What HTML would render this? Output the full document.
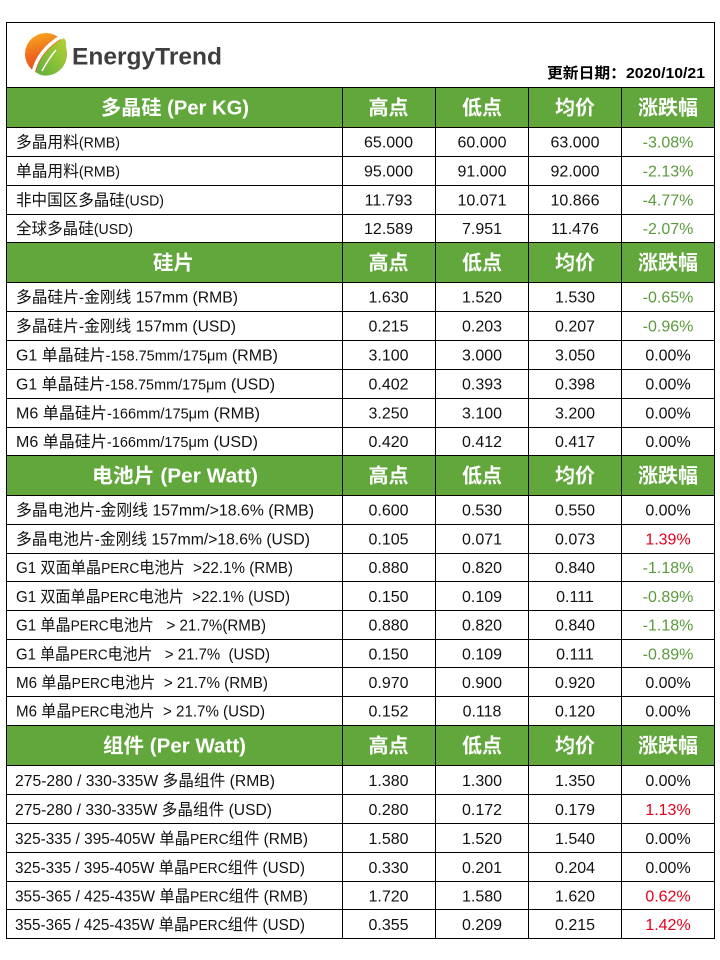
<!DOCTYPE html>
<html>
<head>
<meta charset="utf-8">
<style>
html,body{margin:0;padding:0;background:#fff;}
svg{display:block;}
text{white-space:pre;}
.lb{font-family:"Liberation Sans","Noto Sans CJK SC",sans-serif;font-size:16px;fill:#111;}
.nm{font-family:"Liberation Sans","Noto Sans CJK SC",sans-serif;font-size:16px;fill:#111;text-anchor:middle;}
.g{fill:#5a9a3c;}
.r{fill:#e3001b;}
.hd{font-family:"Liberation Sans","Noto Sans CJK SC",sans-serif;font-size:20px;font-weight:bold;fill:#fff;}
.hc{font-family:"Liberation Sans","Noto Sans CJK SC",sans-serif;font-size:20px;font-weight:bold;fill:#fff;text-anchor:middle;}
.sm{font-size:14.5px;}
</style>
</head>
<body>
<svg width="720" height="960" viewBox="0 0 720 960" xmlns="http://www.w3.org/2000/svg">
<defs>
<linearGradient id="lgo" x1="0" y1="0" x2="0.3" y2="1">
<stop offset="0" stop-color="#f8b01c"/>
<stop offset="0.55" stop-color="#ee6a1f"/>
<stop offset="1" stop-color="#e5461c"/>
</linearGradient>
<linearGradient id="lgg" x1="0" y1="1" x2="1" y2="0">
<stop offset="0" stop-color="#5fae3d"/>
<stop offset="1" stop-color="#b5d334"/>
</linearGradient>
</defs>

<!-- green header fills -->
<rect x="7" y="87" width="707" height="40" fill="#61a73b"/>
<rect x="7" y="242" width="707" height="40" fill="#61a73b"/>
<rect x="7" y="455" width="707" height="40" fill="#61a73b"/>
<rect x="7" y="725" width="707" height="40" fill="#61a73b"/>

<!-- logo -->
<circle cx="46" cy="54" r="21" fill="url(#lgo)"/>
<path d="M 66 46 Q 70 66 54 74 Q 42 78 36 72 Q 40 52 64 38 Q 67 42 66 46 Z" fill="url(#lgg)"/>
<path d="M 33 73 Q 38 50 62 36" stroke="#fff" stroke-width="3.5" fill="none"/>
<path d="M 42 71 Q 49 58 56 50" stroke="#fff" stroke-width="1.5" fill="none"/>
<text x="72" y="64.5" textLength="150" lengthAdjust="spacingAndGlyphs" style="font-family:'Liberation Sans',sans-serif;font-size:24px;font-weight:bold;fill:#3e3e3e;">EnergyTrend</text>
<text x="705" y="78" text-anchor="end" textLength="158" lengthAdjust="spacingAndGlyphs" style="font-family:'Liberation Sans','Noto Sans CJK SC',sans-serif;font-size:15px;font-weight:bold;fill:#000;">更新日期：2020/10/21</text>

<!-- grid lines -->
<g stroke="#000" stroke-width="1" shape-rendering="crispEdges">
<rect x="6.5" y="22.5" width="708" height="916" fill="none"/>
<line x1="6.5" y1="87.5" x2="714.5" y2="87.5"/>
<line x1="342.5" y1="87.5" x2="342.5" y2="938.5"/>
<line x1="435.5" y1="87.5" x2="435.5" y2="938.5"/>
<line x1="528.5" y1="87.5" x2="528.5" y2="938.5"/>
<line x1="621.5" y1="87.5" x2="621.5" y2="938.5"/>
<line x1="6.5" y1="127.5" x2="714.5" y2="127.5"/>
<line x1="6.5" y1="156.5" x2="714.5" y2="156.5"/>
<line x1="6.5" y1="185.5" x2="714.5" y2="185.5"/>
<line x1="6.5" y1="214.5" x2="714.5" y2="214.5"/>
<line x1="6.5" y1="242.5" x2="714.5" y2="242.5"/>
<line x1="6.5" y1="282.5" x2="714.5" y2="282.5"/>
<line x1="6.5" y1="311.5" x2="714.5" y2="311.5"/>
<line x1="6.5" y1="340.5" x2="714.5" y2="340.5"/>
<line x1="6.5" y1="369.5" x2="714.5" y2="369.5"/>
<line x1="6.5" y1="398.5" x2="714.5" y2="398.5"/>
<line x1="6.5" y1="427.5" x2="714.5" y2="427.5"/>
<line x1="6.5" y1="455.5" x2="714.5" y2="455.5"/>
<line x1="6.5" y1="495.5" x2="714.5" y2="495.5"/>
<line x1="6.5" y1="524.5" x2="714.5" y2="524.5"/>
<line x1="6.5" y1="553.5" x2="714.5" y2="553.5"/>
<line x1="6.5" y1="581.5" x2="714.5" y2="581.5"/>
<line x1="6.5" y1="610.5" x2="714.5" y2="610.5"/>
<line x1="6.5" y1="639.5" x2="714.5" y2="639.5"/>
<line x1="6.5" y1="667.5" x2="714.5" y2="667.5"/>
<line x1="6.5" y1="696.5" x2="714.5" y2="696.5"/>
<line x1="6.5" y1="725.5" x2="714.5" y2="725.5"/>
<line x1="6.5" y1="765.5" x2="714.5" y2="765.5"/>
<line x1="6.5" y1="794.5" x2="714.5" y2="794.5"/>
<line x1="6.5" y1="823.5" x2="714.5" y2="823.5"/>
<line x1="6.5" y1="852.5" x2="714.5" y2="852.5"/>
<line x1="6.5" y1="881.5" x2="714.5" y2="881.5"/>
<line x1="6.5" y1="909.5" x2="714.5" y2="909.5"/>
</g>

<!-- section headers -->
<text class="hd" x="101" y="114.5" textLength="148" lengthAdjust="spacingAndGlyphs">多晶硅 (Per KG)</text>
<text class="hd" x="153" y="269.5" textLength="41" lengthAdjust="spacingAndGlyphs">硅片</text>
<text class="hd" x="92" y="482.5" textLength="166" lengthAdjust="spacingAndGlyphs">电池片 (Per Watt)</text>
<text class="hd" x="103" y="752.5" textLength="143" lengthAdjust="spacingAndGlyphs">组件 (Per Watt)</text>

<g>
<text class="hc" x="388.5" y="114.5">高点</text><text class="hc" x="482" y="114.5">低点</text><text class="hc" x="575" y="114.5">均价</text><text class="hc" x="668" y="114.5">涨跌幅</text>
<text class="hc" x="388.5" y="269.5">高点</text><text class="hc" x="482" y="269.5">低点</text><text class="hc" x="575" y="269.5">均价</text><text class="hc" x="668" y="269.5">涨跌幅</text>
<text class="hc" x="388.5" y="482.5">高点</text><text class="hc" x="482" y="482.5">低点</text><text class="hc" x="575" y="482.5">均价</text><text class="hc" x="668" y="482.5">涨跌幅</text>
<text class="hc" x="388.5" y="752.5">高点</text><text class="hc" x="482" y="752.5">低点</text><text class="hc" x="575" y="752.5">均价</text><text class="hc" x="668" y="752.5">涨跌幅</text>
</g>

<!-- Section 1 -->
<text class="lb" x="16" y="147.5" textLength="104" lengthAdjust="spacingAndGlyphs">多晶用料<tspan class="sm">(RMB)</tspan></text>
<text class="nm" x="388.5" y="147.5">65.000</text><text class="nm" x="482" y="147.5">60.000</text><text class="nm" x="575" y="147.5">63.000</text><text class="nm g" x="668" y="147.5">-3.08%</text>

<text class="lb" x="16" y="176.5" textLength="104" lengthAdjust="spacingAndGlyphs">单晶用料<tspan class="sm">(RMB)</tspan></text>
<text class="nm" x="388.5" y="176.5">95.000</text><text class="nm" x="482" y="176.5">91.000</text><text class="nm" x="575" y="176.5">92.000</text><text class="nm g" x="668" y="176.5">-2.13%</text>

<text class="lb" x="16" y="205.5" textLength="148" lengthAdjust="spacingAndGlyphs">非中国区多晶硅<tspan class="sm">(USD)</tspan></text>
<text class="nm" x="388.5" y="205.5">11.793</text><text class="nm" x="482" y="205.5">10.071</text><text class="nm" x="575" y="205.5">10.866</text><text class="nm g" x="668" y="205.5">-4.77%</text>

<text class="lb" x="16" y="234" textLength="117" lengthAdjust="spacingAndGlyphs">全球多晶硅<tspan class="sm">(USD)</tspan></text>
<text class="nm" x="388.5" y="234">12.589</text><text class="nm" x="482" y="234">7.951</text><text class="nm" x="575" y="234">11.476</text><text class="nm g" x="668" y="234">-2.07%</text>

<!-- Section 2 -->
<text class="lb" x="16" y="302.5" textLength="222" lengthAdjust="spacingAndGlyphs">多晶硅片-金刚线 157mm (RMB)</text>
<text class="nm" x="388.5" y="302.5">1.630</text><text class="nm" x="482" y="302.5">1.520</text><text class="nm" x="575" y="302.5">1.530</text><text class="nm g" x="668" y="302.5">-0.65%</text>

<text class="lb" x="16" y="331.5" textLength="220" lengthAdjust="spacingAndGlyphs">多晶硅片-金刚线 157mm (USD)</text>
<text class="nm" x="388.5" y="331.5">0.215</text><text class="nm" x="482" y="331.5">0.203</text><text class="nm" x="575" y="331.5">0.207</text><text class="nm g" x="668" y="331.5">-0.96%</text>

<text class="lb" x="16" y="360.5" textLength="262" lengthAdjust="spacingAndGlyphs">G1 单晶硅片<tspan class="sm">-158.75mm/175μm</tspan> (RMB)</text>
<text class="nm" x="388.5" y="360.5">3.100</text><text class="nm" x="482" y="360.5">3.000</text><text class="nm" x="575" y="360.5">3.050</text><text class="nm" x="668" y="360.5">0.00%</text>

<text class="lb" x="16" y="389.5" textLength="259" lengthAdjust="spacingAndGlyphs">G1 单晶硅片<tspan class="sm">-158.75mm/175μm</tspan> (USD)</text>
<text class="nm" x="388.5" y="389.5">0.402</text><text class="nm" x="482" y="389.5">0.393</text><text class="nm" x="575" y="389.5">0.398</text><text class="nm" x="668" y="389.5">0.00%</text>

<text class="lb" x="16" y="418.5" textLength="244" lengthAdjust="spacingAndGlyphs">M6 单晶硅片<tspan class="sm">-166mm/175μm</tspan> (RMB)</text>
<text class="nm" x="388.5" y="418.5">3.250</text><text class="nm" x="482" y="418.5">3.100</text><text class="nm" x="575" y="418.5">3.200</text><text class="nm" x="668" y="418.5">0.00%</text>

<text class="lb" x="16" y="447" textLength="242" lengthAdjust="spacingAndGlyphs">M6 单晶硅片<tspan class="sm">-166mm/175μm</tspan> (USD)</text>
<text class="nm" x="388.5" y="447">0.420</text><text class="nm" x="482" y="447">0.412</text><text class="nm" x="575" y="447">0.417</text><text class="nm" x="668" y="447">0.00%</text>

<!-- Section 3 -->
<text class="lb" x="16" y="515.5" textLength="298" lengthAdjust="spacingAndGlyphs">多晶电池片-金刚线 157mm/&gt;18.6% (RMB)</text>
<text class="nm" x="388.5" y="515.5">0.600</text><text class="nm" x="482" y="515.5">0.530</text><text class="nm" x="575" y="515.5">0.550</text><text class="nm" x="668" y="515.5">0.00%</text>

<text class="lb" x="16" y="544.5" textLength="294" lengthAdjust="spacingAndGlyphs">多晶电池片-金刚线 157mm/&gt;18.6% (USD)</text>
<text class="nm" x="388.5" y="544.5">0.105</text><text class="nm" x="482" y="544.5">0.071</text><text class="nm" x="575" y="544.5">0.073</text><text class="nm r" x="668" y="544.5">1.39%</text>

<text class="lb" x="16" y="573" textLength="277" lengthAdjust="spacingAndGlyphs">G1 双面单晶<tspan class="sm">PERC</tspan>电池片  &gt;22.1% (RMB)</text>
<text class="nm" x="388.5" y="573">0.880</text><text class="nm" x="482" y="573">0.820</text><text class="nm" x="575" y="573">0.840</text><text class="nm g" x="668" y="573">-1.18%</text>

<text class="lb" x="16" y="602" textLength="274" lengthAdjust="spacingAndGlyphs">G1 双面单晶<tspan class="sm">PERC</tspan>电池片  &gt;22.1% (USD)</text>
<text class="nm" x="388.5" y="602">0.150</text><text class="nm" x="482" y="602">0.109</text><text class="nm" x="575" y="602">0.111</text><text class="nm g" x="668" y="602">-0.89%</text>

<text class="lb" x="16" y="630.5" textLength="250" lengthAdjust="spacingAndGlyphs">G1 单晶<tspan class="sm">PERC</tspan>电池片   &gt; 21.7%(RMB)</text>
<text class="nm" x="388.5" y="630.5">0.880</text><text class="nm" x="482" y="630.5">0.820</text><text class="nm" x="575" y="630.5">0.840</text><text class="nm g" x="668" y="630.5">-1.18%</text>

<text class="lb" x="16" y="659.5" textLength="254" lengthAdjust="spacingAndGlyphs">G1 单晶<tspan class="sm">PERC</tspan>电池片   &gt; 21.7%  (USD)</text>
<text class="nm" x="388.5" y="659.5">0.150</text><text class="nm" x="482" y="659.5">0.109</text><text class="nm" x="575" y="659.5">0.111</text><text class="nm g" x="668" y="659.5">-0.89%</text>

<text class="lb" x="16" y="688" textLength="252" lengthAdjust="spacingAndGlyphs">M6 单晶<tspan class="sm">PERC</tspan>电池片  &gt; 21.7% (RMB)</text>
<text class="nm" x="388.5" y="688">0.970</text><text class="nm" x="482" y="688">0.900</text><text class="nm" x="575" y="688">0.920</text><text class="nm" x="668" y="688">0.00%</text>

<text class="lb" x="16" y="716.5" textLength="249" lengthAdjust="spacingAndGlyphs">M6 单晶<tspan class="sm">PERC</tspan>电池片  &gt; 21.7% (USD)</text>
<text class="nm" x="388.5" y="716.5">0.152</text><text class="nm" x="482" y="716.5">0.118</text><text class="nm" x="575" y="716.5">0.120</text><text class="nm" x="668" y="716.5">0.00%</text>

<!-- Section 4 -->
<text class="lb" x="15" y="786" textLength="260" lengthAdjust="spacingAndGlyphs">275-280 / 330-335W 多晶组件 (RMB)</text>
<text class="nm" x="388.5" y="786">1.380</text><text class="nm" x="482" y="786">1.300</text><text class="nm" x="575" y="786">1.350</text><text class="nm" x="668" y="786">0.00%</text>

<text class="lb" x="15" y="815" textLength="257" lengthAdjust="spacingAndGlyphs">275-280 / 330-335W 多晶组件 (USD)</text>
<text class="nm" x="388.5" y="815">0.280</text><text class="nm" x="482" y="815">0.172</text><text class="nm" x="575" y="815">0.179</text><text class="nm r" x="668" y="815">1.13%</text>

<text class="lb" x="15" y="844" textLength="293" lengthAdjust="spacingAndGlyphs">325-335 / 395-405W 单晶<tspan class="sm">PERC</tspan>组件 (RMB)</text>
<text class="nm" x="388.5" y="844">1.580</text><text class="nm" x="482" y="844">1.520</text><text class="nm" x="575" y="844">1.540</text><text class="nm" x="668" y="844">0.00%</text>

<text class="lb" x="15" y="873" textLength="290" lengthAdjust="spacingAndGlyphs">325-335 / 395-405W 单晶<tspan class="sm">PERC</tspan>组件 (USD)</text>
<text class="nm" x="388.5" y="873">0.330</text><text class="nm" x="482" y="873">0.201</text><text class="nm" x="575" y="873">0.204</text><text class="nm" x="668" y="873">0.00%</text>

<text class="lb" x="15" y="901.5" textLength="293" lengthAdjust="spacingAndGlyphs">355-365 / 425-435W 单晶<tspan class="sm">PERC</tspan>组件 (RMB)</text>
<text class="nm" x="388.5" y="901.5">1.720</text><text class="nm" x="482" y="901.5">1.580</text><text class="nm" x="575" y="901.5">1.620</text><text class="nm r" x="668" y="901.5">0.62%</text>

<text class="lb" x="15" y="930" textLength="290" lengthAdjust="spacingAndGlyphs">355-365 / 425-435W 单晶<tspan class="sm">PERC</tspan>组件 (USD)</text>
<text class="nm" x="388.5" y="930">0.355</text><text class="nm" x="482" y="930">0.209</text><text class="nm" x="575" y="930">0.215</text><text class="nm r" x="668" y="930">1.42%</text>
</svg>
</body>
</html>
